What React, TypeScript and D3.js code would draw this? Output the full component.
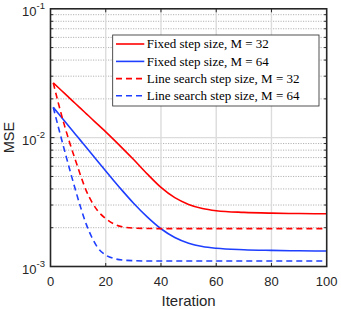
import React from 'react';
import * as d3 from 'd3';

const iterations = [1, 3, 5, 7, 9, 11, 13, 15, 17, 20, 23, 26, 30, 35, 40, 45, 50, 55, 60, 70, 80, 90, 100];

const fixedM32 = [0.02661, 0.02427, 0.02213, 0.02018, 0.01841, 0.01679, 0.01531, 0.01396, 0.01274, 0.01109, 0.009616, 0.008299, 0.006792, 0.005236, 0.004111, 0.00342, 0.003034, 0.002818, 0.00271, 0.00263, 0.002594, 0.002576, 0.002564];
const fixedM64 = [0.01718, 0.01524, 0.01352, 0.01199, 0.01064, 0.00944, 0.00838, 0.00743, 0.00659, 0.00551, 0.004613, 0.003882, 0.003112, 0.002427, 0.001963, 0.001679, 0.001517, 0.001429, 0.001384, 0.001349, 0.001334, 0.001324, 0.001318];
const lineM32 = [0.02661, 0.01799, 0.01256, 0.009057, 0.006714, 0.005012, 0.003846, 0.003162, 0.002723, 0.002355, 0.002138, 0.002032, 0.001986, 0.001972, 0.001968, 0.001968, 0.001968, 0.001968, 0.001968, 0.001968, 0.001968, 0.001968, 0.001968];
const lineM64 = [0.01718, 0.01172, 0.008072, 0.00561, 0.003954, 0.002838, 0.002113, 0.001679, 0.001409, 0.001227, 0.001153, 0.001122, 0.001109, 0.001104, 0.001104, 0.001104, 0.001104, 0.001104, 0.001104, 0.001104, 0.001104, 0.001104, 0.001104];

const xTicks = [0, 20, 40, 60, 80, 100];
const yDecades = [1e-3, 1e-2, 1e-1];
const yExponents = ['-3', '-2', '-1'];
const minorMultipliers = [2, 3, 4, 5, 6, 7, 8, 9];

const seriesNames = [
  'Fixed step size, M = 32',
  'Fixed step size, M = 64',
  'Line search step size, M = 32',
  'Line search step size, M = 64',
];
const seriesValues = [fixedM32, fixedM64, lineM32, lineM64];
const seriesColors = ['#ff0000', '#1f3fff', '#ff0000', '#1f3fff'];
const seriesDashed = [false, false, true, true];

export default function App() {
  const W = 341;
  const H = 309;
  const left = 50.5;
  const right = 326.7;
  const top = 8.8;
  const bottom = 266.5;
  const x = d3.scaleLinear().domain([0, 100]).range([left, right]);
  const y = d3.scaleLog().domain([1e-3, 1e-1]).range([bottom, top]);

  const line = d3
    .line<[number, number]>()
    .x((d) => x(d[0]))
    .y((d) => y(d[1]))
    .curve(d3.curveMonotoneX);

  const minorVals: number[] = [];
  for (const d of [1e-3, 1e-2]) for (const k of minorMultipliers) minorVals.push(d * k);

  const axisColor = '#262626';
  const sans = 'Arial, "Liberation Sans", Helvetica, sans-serif';
  const serif = '"Liberation Serif", "Times New Roman", serif';

  const legX = 112.7;
  const legY = 35;
  const legW = 206.3;
  const legH = 71;
  const legRowY = [44, 61.4, 78.6, 95.8];

  return (
    <svg width={W} height={H} style={{ position: 'absolute', left: 0, top: 0, display: 'block' }}>
      <rect x={0} y={0} width={W} height={H} fill="#ffffff" />
      <defs>
        <clipPath id="plotClip">
          <rect x={left} y={top} width={right - left} height={bottom - top} />
        </clipPath>
      </defs>
      {minorVals.map((v, i) => (
        <line key={'mg' + i} x1={left} x2={right} y1={y(v)} y2={y(v)} stroke="#b4b4b4" strokeWidth={1} strokeDasharray="1.2,1.3" />
      ))}
      {yDecades.slice(1, 2).map((v, i) => (
        <line key={'yg' + i} x1={left} x2={right} y1={y(v)} y2={y(v)} stroke="#dcdcdc" strokeWidth={1.4} />
      ))}
      {xTicks.slice(1, -1).map((t, i) => (
        <line key={'xg' + i} x1={x(t)} x2={x(t)} y1={top} y2={bottom} stroke="#dcdcdc" strokeWidth={1.4} />
      ))}
      <g clipPath="url(#plotClip)">
        {seriesValues.map((vals, si) => (
          <path
            key={'s' + si}
            d={line(iterations.map((it, i) => [it, vals[i]] as [number, number])) || ''}
            fill="none"
            stroke={seriesColors[si]}
            strokeWidth={1.6}
            strokeDasharray={seriesDashed[si] ? '6,4' : undefined}
          />
        ))}
      </g>
      {xTicks.slice(1, -1).map((t, i) => (
        <g key={'xt' + i}>
          <line x1={x(t)} x2={x(t)} y1={bottom} y2={bottom - 3.5} stroke={axisColor} strokeWidth={1} />
          <line x1={x(t)} x2={x(t)} y1={top} y2={top + 3.5} stroke={axisColor} strokeWidth={1} />
        </g>
      ))}
      {minorVals.map((v, i) => (
        <g key={'mt' + i}>
          <line x1={left} x2={left + 2.6} y1={y(v)} y2={y(v)} stroke={axisColor} strokeWidth={1} />
          <line x1={right} x2={right - 2.6} y1={y(v)} y2={y(v)} stroke={axisColor} strokeWidth={1} />
        </g>
      ))}
      <line x1={left} x2={left + 4} y1={y(1e-2)} y2={y(1e-2)} stroke={axisColor} strokeWidth={1} />
      <line x1={right} x2={right - 4} y1={y(1e-2)} y2={y(1e-2)} stroke={axisColor} strokeWidth={1} />
      <rect x={left} y={top} width={right - left} height={bottom - top} fill="none" stroke={axisColor} strokeWidth={1.6} />
      {xTicks.map((t, i) => (
        <text key={'xl' + i} x={x(t)} y={286} textAnchor="middle" fontFamily={sans} fontSize={13} fill={axisColor}>
          {t}
        </text>
      ))}
      {yDecades.map((v, i) => (
        <text key={'yl' + i} x={45} y={y(v) + 7} textAnchor="end" fontFamily={sans} fontSize={13} fill={axisColor}>
          10
          <tspan fontSize={9.5} dy={-6.5}>{yExponents[i]}</tspan>
        </text>
      ))}
      <text x={188.6} y={306} textAnchor="middle" fontFamily={sans} fontSize={15} fill={axisColor}>
        Iteration
      </text>
      <text
        transform={`translate(13.5, ${(top + bottom) / 2}) rotate(-90)`}
        textAnchor="middle"
        fontFamily={sans}
        fontSize={14.5}
        fill={axisColor}
      >
        MSE
      </text>
      <rect x={legX} y={legY} width={legW} height={legH} fill="#ffffff" stroke={axisColor} strokeWidth={0.8} />
      {seriesNames.map((name, i) => (
        <g key={'lg' + i}>
          <line
            x1={116}
            x2={144.3}
            y1={legRowY[i]}
            y2={legRowY[i]}
            stroke={seriesColors[i]}
            strokeWidth={1.6}
            strokeDasharray={seriesDashed[i] ? '6,4' : undefined}
          />
          <text x={146.7} y={legRowY[i] + 4.3} fontFamily={serif} fontSize={13} fill="#000000">
            {name}
          </text>
        </g>
      ))}
    </svg>
  );
}
